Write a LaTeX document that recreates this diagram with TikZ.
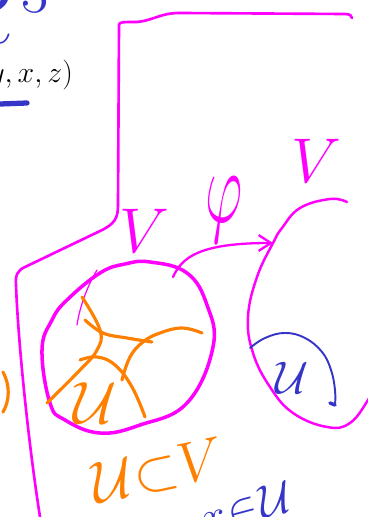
\RequirePackage{fix-cm}
\documentclass[tikz,border=0pt]{standalone}
\usepackage{amsmath,amssymb}
\usepackage{tikz}
\usetikzlibrary{arrows.meta}

\definecolor{penmag}{HTML}{FF00FF}
\definecolor{penorange}{HTML}{FF8000}
\definecolor{penblue}{HTML}{3535C8}

\begin{document}
\begin{tikzpicture}[x=0.02cm, y=-0.02cm, line cap=round, line join=round,
  ink/.style={inner sep=0pt, outer sep=0pt},
  frame/.style={draw=penmag, line width=1.5pt},
  chart/.style={draw=penorange, line width=1.8pt}]
\useasboundingbox (0,0) rectangle (368,517);
\clip (0,0) rectangle (368,517);

% R^3 and coordinates
\node[ink, anchor=base west, text=penblue, font=\fontsize{48}{50}\selectfont] (space) at (-52,43) {$R^{\,3}$};
\node[ink, anchor=east, font=\fontsize{17}{20}\selectfont] (coords) at (73,75) {$(y,x,z)$};
\coordinate (ul1) at (0,104);
\coordinate (ul2) at (27,103);
\draw[penblue, line width=3pt] (ul1) -- (ul2);

% Frame
\draw[frame] (40,517) .. controls (28,440) and (18,340) .. (16,285)
  .. controls (15,275) and (18,270) .. (25,267) -- (100,231)
  .. controls (115,224) and (118,218) .. (118,205) -- (119,25)
  .. controls (119,22) and (122,22) .. (137,22)
  .. controls (155,20) and (160,13) .. (180,13) -- (345,14)
  .. controls (350,14) and (352,16) .. (352,18);

% Open set U
\draw[penmag, line width=2pt] plot[smooth cycle, tension=0.7] coordinates {(150,262) (187,273) (207,305) (213,347) (187,403) (140,425) (100,433) (65,420) (50,403) (42,350) (52,320) (67,300) (100,273) (125,264)};
\draw[penmag, line width=0.7pt] (97,270) .. controls (88,285) and (80,305) .. (77,325);
\draw[chart] plot[smooth, tension=0.7] coordinates {(82,297) (100,330) (97,350) (80,370) (47,403)};
\draw[chart] plot[smooth, tension=0.7] coordinates {(85,320) (103,333) (127,338) (152,342)};
\draw[chart] plot[smooth, tension=0.7] coordinates {(122,380) (130,357) (143,342) (160,333) (182,328) (202,333)};
\draw[chart] plot[smooth, tension=0.7] coordinates {(80,360) (97,357) (115,365) (132,387) (145,417)};
\node[ink, text=penorange, font=\fontsize{34}{36}\selectfont] (u1) at (95,403) {$\mathcal{U}$};
\draw[chart] (3,372) .. controls (10,385) and (10,400) .. (3,412);

% Image of U
\draw[penmag, line width=1.4pt] plot[smooth, tension=0.7] coordinates {(347,202) (330,199) (300,208) (282,228) (273,243) (257,277) (248,317) (253,353) (270,387) (293,413) (327,427) (350,423) (368,400) (372,390)};
\draw[penblue, line width=1.1pt] plot[smooth, tension=0.7] coordinates {(250,348) (265,338) (285,333) (305,338) (322,352) (331,370) (335,390) (335,405)};
\draw[penblue, line width=2pt] (335,405) -- (330,403);
\node[ink, text=penblue, font=\fontsize{26}{28}\selectfont] (u2) at (292,378) {$\mathcal{U}$};

% Chart map
\coordinate (src) at (173,277);
\coordinate (dst) at (273,243);
\draw[penmag, line width=1.3pt, -{Straight Barb[length=7pt,width=9pt]}] (src) .. controls (182,257) and (200,243) .. (dst);
\node[ink, text=penmag, font=\fontsize{60}{62}\selectfont] (phi) at (224,210) {\scalebox{0.55}[1]{$\varphi$}};
\node[ink, text=penmag, font=\fontsize{36}{40}\selectfont] (V1) at (144,231) {$V$};
\node[ink, text=penmag, font=\fontsize{36}{40}\selectfont] (V2) at (316,161) {$V$};

% Bottom
\node[ink, text=penorange, rotate=12, font=\fontsize{33}{36}\selectfont] (subset) at (158,471) {$\mathcal{U}\mkern-5mu\subset\mkern-5mu V$};
\node[ink, text=penblue, rotate=15, font=\fontsize{26}{28}\selectfont] (member) at (246,508) {$x\mkern-4mu\in\mkern-4mu\mathcal{U}$};
\end{tikzpicture}
\end{document}
